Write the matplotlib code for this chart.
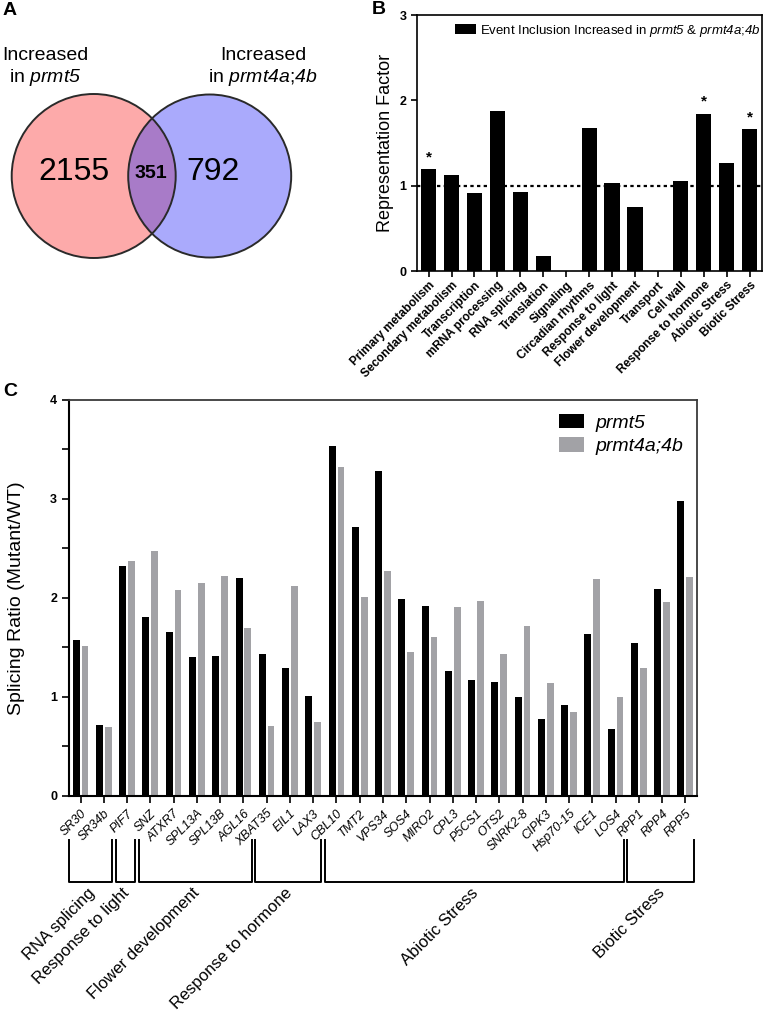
import matplotlib.pyplot as plt
from matplotlib.patches import Circle, Patch
import matplotlib.transforms as mtransforms
import numpy as np

plt.rcParams['font.family'] = ['Liberation Sans', 'DejaVu Sans']
# math text is only used for the italic gene names, so make all of it italic
plt.rcParams['mathtext.fontset'] = 'custom'
plt.rcParams['mathtext.rm'] = 'Liberation Sans:italic'
plt.rcParams['mathtext.it'] = 'Liberation Sans:italic'
plt.rcParams['mathtext.bf'] = 'Liberation Sans:bold'

# ---- data ----
# A: venn counts (only prmt5, both, only prmt4a;4b)
venn_counts = [2155, 351, 792]
venn_titles = ["Increased\nin $prmt5$", "Increased\nin $prmt4a$;$4b$"]

# B: GO categories
go_terms = ["Primary metabolism", "Secondary metabolism", "Transcription",
            "mRNA processing", "RNA splicing", "Translation", "Signaling",
            "Circadian rhythms", "Response to light", "Flower development",
            "Transport", "Cell wall", "Response to hormone", "Abiotic Stress",
            "Biotic Stress"]
rep_factor = [1.19, 1.13, 0.91, 1.87, 0.93, 0.18, 0.0, 1.68, 1.03, 0.75,
              0.0, 1.05, 1.84, 1.26, 1.66]
significant = [True, False, False, False, False, False, False, False, False,
               False, False, False, True, False, True]

# C: splicing ratio per gene
genes = ["SR30", "SR34b", "PIF7", "SNZ", "ATXR7", "SPL13A", "SPL13B", "AGL16",
         "XBAT35", "EIL1", "LAX3", "CBL10", "TMT2", "VPS34", "SOS4", "MIRO2",
         "CPL3", "P5CS1", "OTS2", "SNRK2-8", "CIPK3", "Hsp70-15", "ICE1",
         "LOS4", "RPP1", "RPP4", "RPP5"]
ratio_prmt5 = [1.57, 0.71, 2.32, 1.81, 1.65, 1.40, 1.41, 2.20, 1.43, 1.29,
               1.01, 3.53, 2.72, 3.28, 1.99, 1.92, 1.26, 1.17, 1.15, 1.00,
               0.78, 0.92, 1.63, 0.67, 1.54, 2.09, 2.98]
ratio_prmt4 = [1.51, 0.69, 2.37, 2.47, 2.08, 2.15, 2.22, 1.70, 0.70, 2.12,
               0.74, 3.32, 2.01, 2.27, 1.45, 1.60, 1.91, 1.97, 1.43, 1.72,
               1.14, 0.85, 2.19, 1.00, 1.29, 1.96, 2.21]
groups = ["RNA splicing", "Response to light", "Flower development",
          "Response to hormone", "Abiotic Stress", "Biotic Stress"]
group_sizes = [2, 1, 5, 3, 13, 3]

W, H = 763, 1011
fig = plt.figure(figsize=(W / 100, H / 100), dpi=100)

def fig_axes(left, top, right, bottom):
    return fig.add_axes([left / W, 1 - bottom / H, (right - left) / W, (bottom - top) / H])

# ---- panel A: venn ----
axA = fig_axes(0, 0, 330, 290)
axA.set_xlim(0, 330)
axA.set_ylim(290, 0)
axA.axis('off')
c1 = Circle((93.7, 176), 82, facecolor='#fdaaaa', edgecolor='none')
c2 = Circle((209.7, 176), 81.5, facecolor='#aaaafc', edgecolor='none')
axA.add_patch(c1)
axA.add_patch(c2)
mid = Circle((93.7, 176), 82, facecolor='#a87bc8', edgecolor='none')
axA.add_patch(mid)
mid.set_clip_path(c2)
for c in [(93.7, 176, 82), (209.7, 176, 81.5)]:
    axA.add_patch(Circle(c[:2], c[2], facecolor='none', edgecolor='#2a2a2a', lw=1.4))
axA.text(45, 68, venn_titles[0], ha='center', va='center', fontsize=14, linespacing=1.2)
axA.text(263, 68, venn_titles[1], ha='center', va='center', fontsize=14, linespacing=1.2)
axA.text(74, 172, str(venn_counts[0]), ha='center', va='center', fontsize=23)
axA.text(150.7, 173, str(venn_counts[1]), ha='center', va='center', fontsize=14, fontweight='bold')
axA.text(213, 172, str(venn_counts[2]), ha='center', va='center', fontsize=23)

# ---- panel B ----
axB = fig_axes(416.7, 15, 761.5, 271)
xb = np.arange(len(go_terms))
axB.bar(xb, rep_factor, width=0.66, color='black', zorder=2)
axB.axhline(1, color='black', lw=1.6, ls=(0, (1.5, 1.5)), zorder=1)
for i, s in enumerate(significant):
    if s:
        axB.text(xb[i], rep_factor[i] + 0.06, '*', ha='center', va='bottom',
                 fontsize=11, fontweight='bold')
axB.set_xlim(-0.52, len(go_terms) - 0.48)
axB.set_ylim(0, 3)
axB.set_yticks([0, 1, 2, 3])
axB.set_xticks(xb)
axB.set_xticklabels(go_terms, rotation=45, ha='right', rotation_mode='anchor',
                    fontsize=8.6, fontweight='bold')
for lab in axB.get_yticklabels():
    lab.set_fontweight('bold')
    lab.set_fontsize(9)
axB.tick_params(direction='out', length=4, width=1.2)
axB.tick_params(axis='x', pad=2)
axB.set_ylabel('Representation Factor', fontsize=13, labelpad=4)
for sp in axB.spines.values():
    sp.set_linewidth(1.2)
axB.legend(handles=[Patch(facecolor='black',
                          label='Event Inclusion Increased in $prmt5$ & $prmt4a$;$4b$')],
           loc='upper right', frameon=False, fontsize=9.5, handlelength=1.6,
           handleheight=0.8, handletextpad=0.3, borderaxespad=0.2,
           bbox_to_anchor=(1.02, 1.0))

# ---- panel C ----
axC = fig_axes(69, 400, 697, 795.7)
xc = np.arange(len(genes))
axC.bar(xc - 0.19, ratio_prmt5, width=0.3, color='black', label='prmt5')
axC.bar(xc + 0.19, ratio_prmt4, width=0.29, color='#a2a2a6', label='prmt4a;4b')
axC.set_xlim(-0.5, len(genes) - 0.5)
axC.set_ylim(0, 4)
axC.set_yticks([0, 1, 2, 3, 4])
axC.set_yticks(np.arange(0.5, 4, 1), minor=True)
axC.set_xticks(xc)
axC.set_xticklabels(genes, rotation=45, ha='right', rotation_mode='anchor',
                    fontsize=9, style='italic')
for lab in axC.get_yticklabels():
    lab.set_fontweight('bold')
    lab.set_fontsize(9)
axC.tick_params(which='both', direction='out', length=5, width=1.2)
axC.set_ylabel('Splicing Ratio (Mutant/WT)', fontsize=14, labelpad=18)
axC.spines['left'].set_linewidth(1.5)
axC.spines['bottom'].set_linewidth(1.5)
for k in ['top', 'right']:
    axC.spines[k].set_linewidth(1.3)
    axC.spines[k].set_color('#3a3a3a')
axC.legend(loc='upper right', frameon=False, prop={'style': 'italic', 'size': 14},
           handlelength=1.3, handleheight=0.75, handletextpad=0.6,
           labelspacing=0.3, borderaxespad=0.3)

# group brackets under gene labels
trans = mtransforms.blended_transform_factory(axC.transData, axC.transAxes)
start = 0
for name, n in zip(groups, group_sizes):
    x0 = start - 0.5
    x1 = start + n - 1 + 0.35
    axC.plot([x0, x0, x1, x1], [-0.112, -0.218, -0.218, -0.112], transform=trans,
             color='black', lw=1.4, clip_on=False)
    axC.text((x0 + x1) / 2 - 0.15, -0.226, name, transform=trans, rotation=45,
             ha='right', va='top', rotation_mode='anchor', fontsize=12)
    start += n

# panel letters
fig.text(3 / W, 1 - 2 / H, 'A', fontsize=14, fontweight='bold', va='top')
fig.text(372 / W, 1 - 1 / H, 'B', fontsize=14, fontweight='bold', va='top')
fig.text(3 / W, 1 - 383 / H, 'C', fontsize=14, fontweight='bold', va='top')

fig.savefig('out.png', dpi=100)
